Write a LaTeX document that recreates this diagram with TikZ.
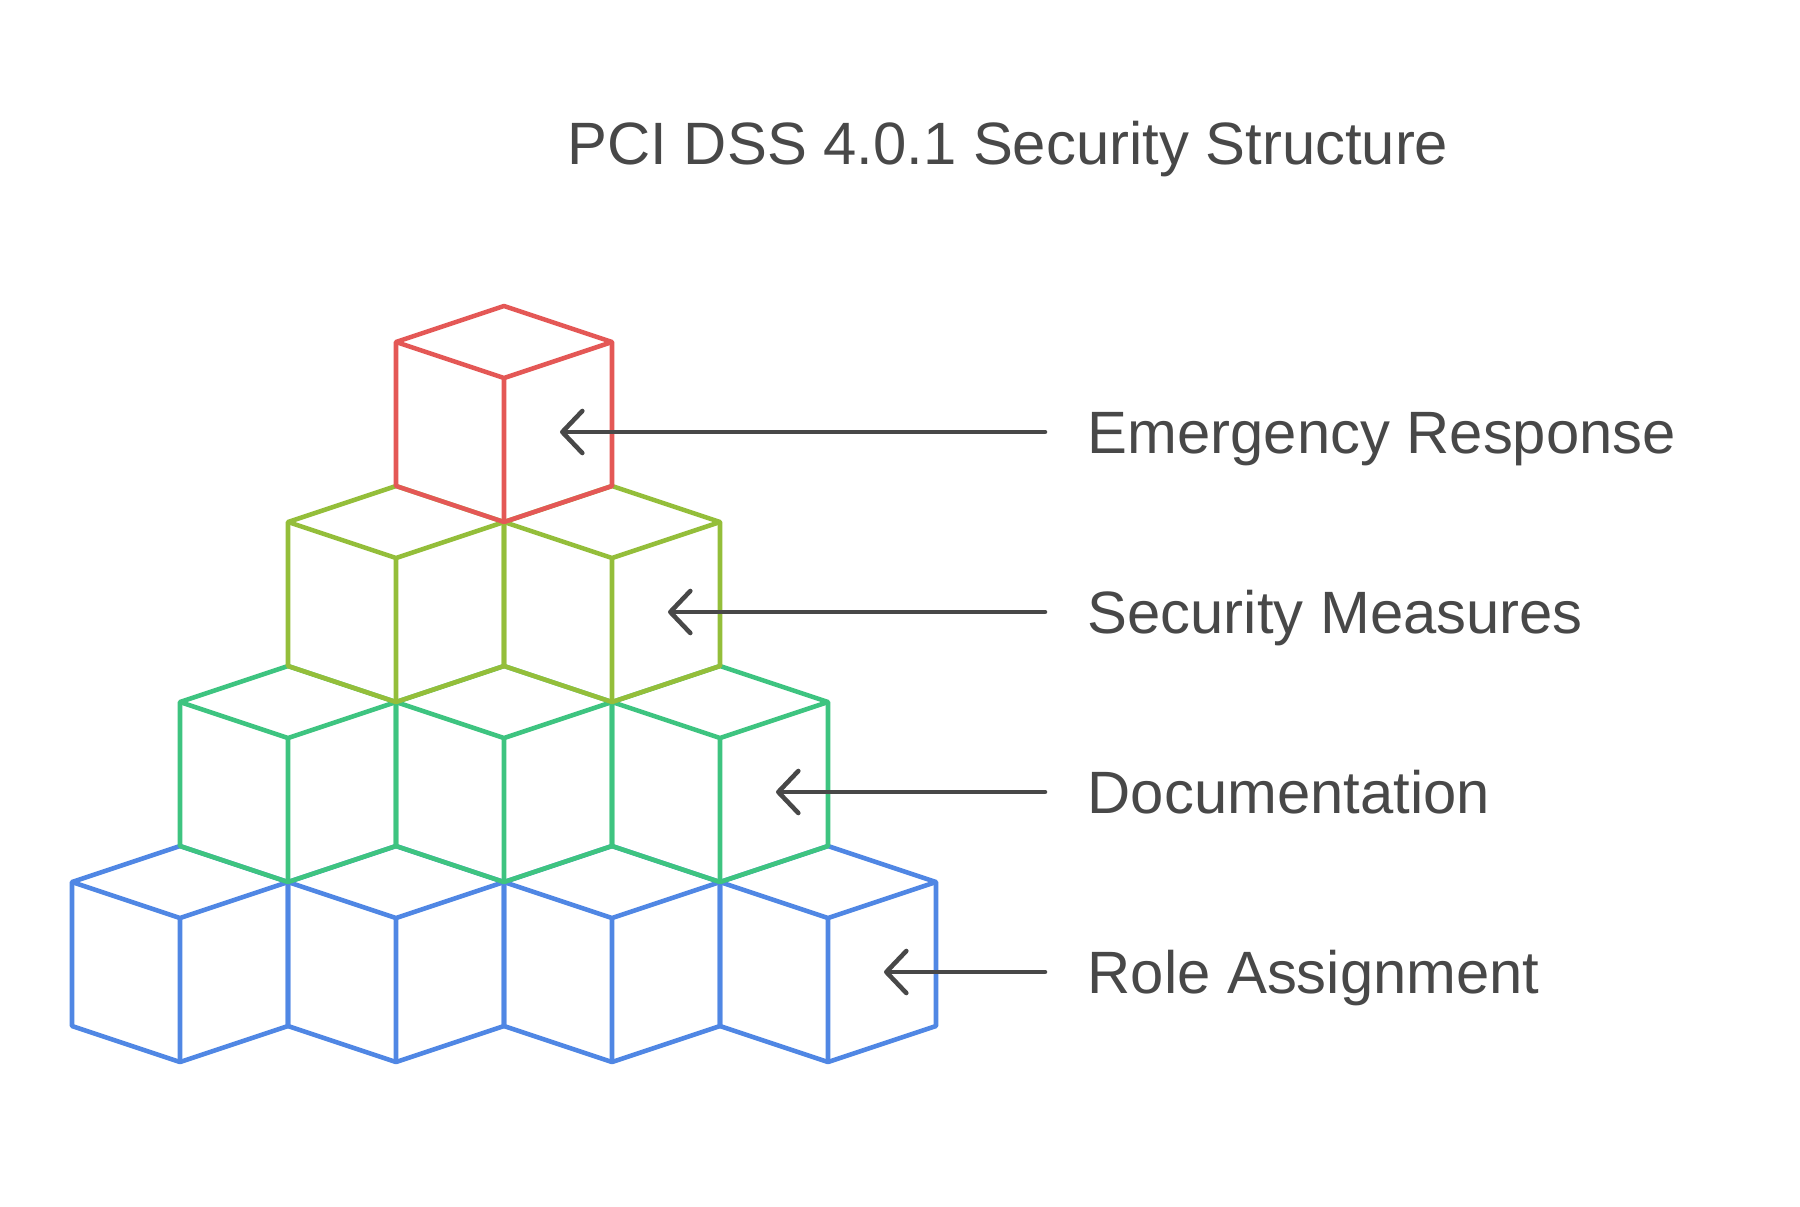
\documentclass[tikz,border=0pt]{standalone}
\usepackage{fontspec}
\setmainfont{Liberation Sans}
\usepackage{tikz}
\usetikzlibrary{arrows.meta, positioning}

\definecolor{cubered}{RGB}{228,88,86}
\definecolor{cubelime}{RGB}{148,190,58}
\definecolor{cubegreen}{RGB}{62,196,128}
\definecolor{cubeblue}{RGB}{80,135,228}
\definecolor{txtgray}{RGB}{72,72,72}

\tikzset{
  cube/.pic={
    \draw[line width=1.3pt, line join=round] (-108,-36) -- (0,-72) -- (108,-36) -- (108,108) -- (0,144) -- (-108,108) -- cycle;
    \draw[line width=1.3pt, line join=round] (-108,-36) -- (0,0) -- (108,-36) (0,0) -- (0,144);
  },
  lbl/.style={font=\fontsize{17}{20}\selectfont, text=txtgray, inner sep=0pt, text height=12pt, text depth=0pt, anchor=west},
  pointer/.style={draw=txtgray, line width=1.3pt, line cap=round, shorten <=0.42cm, -{Straight Barb[length=2mm, width=4.2mm, round]}}
}

\begin{document}
\begin{tikzpicture}[x=0.01cm, y=-0.01cm]
\useasboundingbox (0,0) rectangle (1800,1206);

\node[font=\fontsize{17}{20}\selectfont, text=txtgray, inner sep=0pt, anchor=base] (title) at (1008,164) {PCI DSS 4.0.1 Security Structure};

% pyramid, bottom row first
\foreach \i in {0,...,3} \pic[color=cubeblue] at ({180+216*\i},918) {cube};
\foreach \i in {0,...,2} \pic[color=cubegreen] at ({288+216*\i},738) {cube};
\foreach \i in {0,1} \pic[color=cubelime] at ({396+216*\i},558) {cube};
\pic[color=cubered] at (504,378) {cube};

% labels
\coordinate (tipresp) at (560,432);
\coordinate (tipsec) at (668,612);
\coordinate (tipdoc) at (776,792);
\coordinate (tiprole) at (884,972);

\node[lbl] (resp) at (1087,432) {Emergency Response};
\node[lbl] (sec) at (1087,612) {Security Measures};
\node[lbl] (doc) at (1087,792) {Documentation};
\node[lbl] (role) at (1087,972) {Role Assignment};

\draw[pointer] (resp.west) -- (tipresp);
\draw[pointer] (sec.west) -- (tipsec);
\draw[pointer] (doc.west) -- (tipdoc);
\draw[pointer] (role.west) -- (tiprole);
\end{tikzpicture}
\end{document}
